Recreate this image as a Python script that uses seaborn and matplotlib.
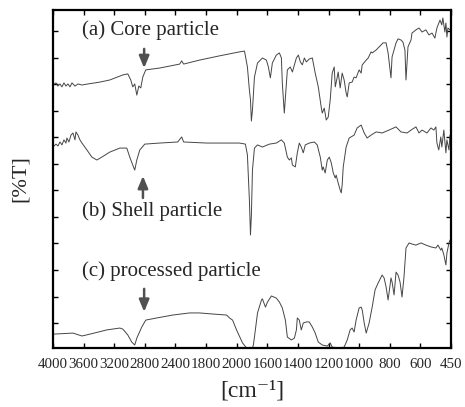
import numpy as np
import pandas as pd
import matplotlib
matplotlib.use("Agg")
import matplotlib.pyplot as plt
import seaborn as sns

# ---------------- data (wavenumber cm^-1, transmittance arb. units) ----------------
core_wn = [4000, 3961, 3935, 3909, 3883, 3857, 3831, 3805, 3778, 3752, 3713, 3674, 3622, 3544,
           3453, 3388, 3257, 3088, 3023, 2984, 2958, 2932, 2905, 2879, 2853, 2827, 2788, 2606,
           2345, 2319, 2293, 2085, 1912, 1782, 1749, 1730, 1717, 1710, 1704, 1697, 1684, 1664,
           1632, 1606, 1593, 1580, 1567, 1541, 1521, 1508, 1502, 1489, 1469, 1450, 1436, 1423,
           1410, 1397, 1384, 1371, 1358, 1345, 1326, 1306, 1287, 1267, 1248, 1241, 1228, 1215,
           1202, 1189, 1176, 1163, 1156, 1143, 1137, 1124, 1111, 1098, 1085, 1078, 1065, 1046,
           1033, 1020, 1000, 987, 980, 954, 941, 922, 915, 889, 876, 857, 844, 824, 811, 792,
           785, 759, 746, 727, 714, 701, 694, 681, 661, 655, 629, 609, 592, 573, 558, 543, 529,
           519, 504, 495, 490, 480, 475, 470, 465, 455]
core_t = [99.8, 100.6, 99.4, 100.2, 99.1, 100.6, 99.4, 100.2, 99.1, 100.6, 99.4, 100.2, 99.8, 100.2,
          100.6, 100.9, 101.7, 103.6, 104.0, 101.7, 99.1, 100.2, 96.0, 99.4, 98.7, 102.8, 105.5, 106.2,
          107.7, 108.9, 107.7, 109.2, 110.8, 112.3, 112.6, 106.6, 97.9, 94.2, 86.2, 90.4, 102.8, 108.1,
          110.0, 109.2, 106.6, 102.5, 108.1, 111.1, 111.9, 110.0, 100.6, 89.2, 105.5, 106.6, 104.7, 107.4,
          110.0, 111.1, 108.5, 107.4, 110.0, 108.5, 109.6, 110.0, 104.3, 99.1, 91.5, 89.2, 91.1, 86.6,
          87.7, 94.2, 104.3, 106.6, 99.1, 102.8, 104.7, 98.7, 104.3, 101.7, 96.8, 95.3, 100.6, 100.9,
          102.8, 102.5, 105.5, 104.3, 107.4, 109.2, 110.0, 112.3, 111.9, 113.0, 113.8, 114.9, 115.7, 115.7, 111.9, 102.5,
          110.4, 115.7, 117.2, 116.8, 116.0, 113.0, 101.7, 114.2, 116.8, 119.4, 120.6, 121.3, 119.8, 120.6, 118.7, 119.4, 117.5,
          121.3, 124.3, 122.5, 125.1, 119.8, 123.2, 117.9, 121.3, 120.6]

shell_wn = [4000, 3961, 3935, 3909, 3883, 3857, 3831, 3818, 3792, 3765, 3739, 3713, 3700, 3674,
            3648, 3622, 3557, 3492, 3427, 3362, 3257, 3127, 3036, 2997, 2958, 2932, 2905, 2866,
            2801, 2606, 2371, 2319, 2293, 1997, 1782, 1743, 1730, 1717, 1710, 1704, 1697, 1684,
            1664, 1632, 1586, 1541, 1508, 1489, 1469, 1456, 1443, 1436, 1417, 1404, 1391, 1378,
            1365, 1352, 1326, 1293, 1274, 1254, 1241, 1235, 1222, 1208, 1195, 1182, 1169, 1156,
            1150, 1137, 1124, 1117, 1111, 1104, 1085, 1065, 1033, 1013, 987, 967, 948, 922, 889,
            850, 805, 759, 727, 687, 661, 629, 609, 592, 568, 548, 534, 524, 519, 510, 500, 495,
            485, 475, 470, 460, 455]
shell_t = [76.4, 77.5, 76.8, 78.3, 77.2, 79.1, 77.9, 79.8, 78.3, 80.9, 81.7, 79.1, 82.1, 80.9,
           79.1, 77.9, 75.3, 72.6, 71.5, 72.6, 74.5, 76.0, 76.0, 72.6, 69.6, 67.7, 71.5, 75.3,
           77.5, 77.9, 78.3, 80.2, 78.3, 77.9, 77.9, 77.5, 73.4, 56.4, 43.2, 50.8, 67.7, 76.0,
           77.2, 76.4, 77.5, 77.9, 79.1, 77.9, 72.6, 71.5, 72.3, 69.6, 68.9, 74.2, 77.9, 76.4,
           74.2, 77.2, 77.9, 78.3, 77.2, 72.6, 67.7, 68.9, 66.6, 71.5, 72.6, 70.4, 66.6, 64.7,
           65.8, 62.8, 60.2, 59.1, 62.1, 68.9, 76.4, 79.8, 80.9, 83.6, 84.7, 81.7, 79.8, 80.9, 82.1,
           81.7, 82.8, 84.0, 82.1, 81.7, 82.8, 84.0, 81.7, 82.8, 81.7, 83.6, 82.8, 84.0, 77.9, 75.3, 80.2, 76.4,
           82.8, 74.2, 79.1, 75.3, 80.9]

proc_wn = [4000, 3739, 3622, 3518, 3296, 3127, 3088, 3023, 2971, 2932, 2905, 2840, 2788, 2645,
           2436, 2215, 2085, 1958, 1866, 1847, 1827, 1801, 1762, 1736, 1723, 1704, 1691, 1684,
           1664, 1638, 1632, 1612, 1599, 1573, 1541, 1521, 1502, 1482, 1469, 1443, 1423, 1410,
           1404, 1391, 1378, 1365, 1345, 1326, 1306, 1287, 1267, 1241, 1208, 1189, 1176, 1130,
           1098, 1078, 1059, 1046, 1033, 1020, 1000, 987, 980, 967, 954, 935, 915, 896, 876, 850,
           837, 824, 811, 792, 785, 772, 759, 746, 733, 720, 707, 694, 674, 655, 629, 597, 573,
           548, 524, 514, 500, 495, 485, 475, 470, 460, 455]
proc_t = [5.8, 6.2, 5.1, 5.8, 7.4, 8.1, 7.7, 5.5, 2.8, 1.7, 4.3, 8.5, 11.1, 11.9,
          13.0, 13.8, 13.8, 13.4, 13.0, 11.9, 11.1, 7.4, 2.5, 0.6, -0.9, -0.9, 1.7, 4.7,
          13.8, 18.7, 19.1, 16.0, 17.9, 20.2, 19.4, 17.9, 15.7, 11.1, 4.7, 3.6, 4.3, 7.4,
          11.9, 11.1, 7.4, 10.0, 10.4, 10.4, 8.5, 6.2, 2.8, 1.7, 1.3, 2.5, 0.9, 0.6,
          0.9, 3.6, 7.4, 8.1, 6.6, 11.1, 15.7, 16.0, 14.9, 10.0, 6.2, 10.0, 16.0, 22.5, 25.1, 28.1,
          27.0, 23.6, 18.7, 27.0, 25.5, 20.6, 29.2, 28.1, 25.5, 19.8, 27.4, 38.3, 40.2, 39.8, 39.4, 40.2, 39.4,
          38.7, 38.3, 39.4, 37.5, 38.3, 35.7, 31.9, 36.4, 40.2, 41.3]

tick_wn = [4000, 3600, 3200, 2800, 2400, 2000, 1800, 1600, 1400, 1200, 1000, 800, 600, 450]
tick_labels = ["4000", "3600", "3200", "2800", "2400", "1800", "2000", "1600",
               "1400", "1200", "1000", "800", "600", "450"]

labels = ["(a) Core particle", "(b) Shell particle", "(c) processed particle"]

# ---------------- style ----------------
sns.set_theme(style="ticks")
plt.rcParams["font.family"] = ["Liberation Serif", "DejaVu Serif"]

df = pd.concat([
    pd.DataFrame({"wn": core_wn, "T": core_t, "s": "a"}),
    pd.DataFrame({"wn": shell_wn, "T": shell_t, "s": "b"}),
    pd.DataFrame({"wn": proc_wn, "T": proc_t, "s": "c"}),
])

fig = plt.figure(figsize=(4.65, 4.07), dpi=100)
ax = fig.add_axes([53 / 465, 1 - 348 / 407, 398 / 465, 338 / 407])

# broken FTIR axis: 4000-2000 compressed, 2000-600 expanded, 600-450 one unit
bp_w = [450, 600, 2000, 4000]
bp_p = [0, 1, 8, 13]
def fwd(w):
    return np.interp(w, bp_w, bp_p)
def inv(p):
    return np.interp(p, bp_p, bp_w)
ax.set_xscale("function", functions=(fwd, inv))

for key in ["a", "b", "c"]:
    sub = df[df["s"] == key]
    sns.lineplot(data=sub, x="wn", y="T", ax=ax, color="#454545", lw=0.7,
                 estimator=None, sort=False)

ax.set_xlim(4000, 450)
ax.set_ylim(0.57, 128.1)
ax.set_xticks(tick_wn)
ax.set_xticklabels(tick_labels, fontsize=10.8)
ax.xaxis.set_minor_locator(matplotlib.ticker.NullLocator())
ax.set_yticks(np.arange(10, 121, 10))
ax.set_yticklabels([])
ax.tick_params(axis="both", which="both", direction="in", length=3.5, width=1,
               top=True, right=True, color="black", pad=7)
for sp in ax.spines.values():
    sp.set_linewidth(1.6)
    sp.set_color("black")

ax.set_xlabel("[cm\u207b\u00b9]", fontsize=17, labelpad=7)
ax.set_ylabel("[%T]", fontsize=16, labelpad=10)

tx = 0.073
ax.text(tx, 0.941, labels[0], transform=ax.transAxes, fontsize=15, ha="left", va="center")
ax.text(tx, 0.405, labels[1], transform=ax.transAxes, fontsize=15, ha="left", va="center")
ax.text(tx, 0.228, labels[2], transform=ax.transAxes, fontsize=15, ha="left", va="center")

aprops = dict(arrowstyle="-|>,head_length=0.6,head_width=0.25", color="#505050", lw=1.8,
              shrinkA=0, shrinkB=0)
ax.annotate("", xy=(0.229, 0.828), xytext=(0.229, 0.885), xycoords="axes fraction",
            arrowprops=aprops)
ax.annotate("", xy=(0.226, 0.509), xytext=(0.226, 0.444), xycoords="axes fraction",
            arrowprops=aprops)
ax.annotate("", xy=(0.229, 0.107), xytext=(0.229, 0.175), xycoords="axes fraction",
            arrowprops=aprops)

fig.savefig("out.png", dpi=100)
